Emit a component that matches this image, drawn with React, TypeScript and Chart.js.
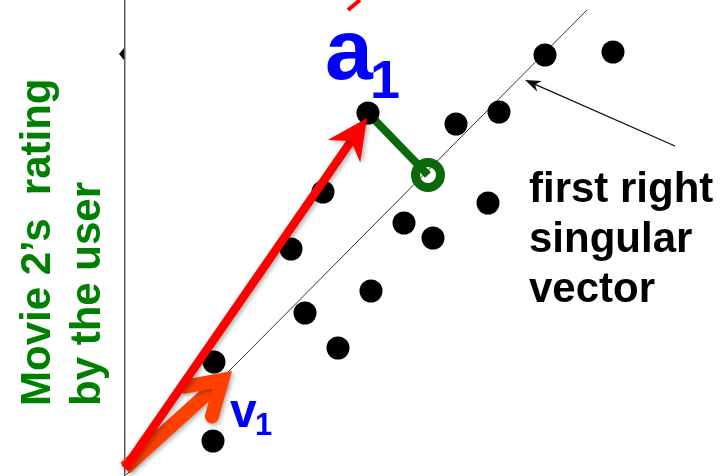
import React, { useEffect, useRef } from 'react';
import { Chart, registerables } from 'chart.js';

Chart.register(...registerables);

// Users' ratings: Movie 1 (x) and Movie 2 (y)
const ratingX = [42.0, 48.8, 24.3, 33.1, 37.4, 19.8, 16.6, 27.9, 30.8, 36.3, 24.6, 18.0, 21.3, 8.9, 8.8];
const ratingY = [41.3, 41.6, 35.5, 34.4, 35.6, 27.6, 21.9, 24.5, 23.0, 26.5, 17.7, 15.5, 12.0, 10.6, 2.7];

// first right singular vector direction line
const vectorLineX = [0.1, 46.2];
const vectorLineY = [-0.7, 45.8];

// projection of a1 onto the vector
const projX = [24.3, 30.3];
const projY = [35.5, 29.3];

// arrows
const a1ArrowX = [0, 24.2];
const a1ArrowY = [0, 35.0];
const v1ArrowX = [0, 10.7];
const v1ArrowY = [0, 9.7];
const calloutX = [55.0, 40.0];
const calloutY = [32.2, 38.8];

// red fragment at the top edge
const redMarkX = [23.5, 22.3];
const redMarkY = [46.8, 45.8];

const xRange = [0, 60];
const yRange = [-0.8, 46.8];

const yTitleLines = ['Movie 2\u2019s  rating', 'by the user'];
const vectorLabelLines = ['first right', 'singular', 'vector'];

const FONT = "'Liberation Sans', Arial, Helvetica, sans-serif";

const pts = (xs: number[], ys: number[]) => xs.map((x, i) => ({ x, y: ys[i] }));

const overlayPlugin = {
  id: 'overlay',
  afterDatasetsDraw(chart: any) {
    const { ctx, chartArea } = chart;
    const sx = chart.scales.x;
    const sy = chart.scales.y;
    const P = (x: number, y: number) => ({ x: sx.getPixelForValue(x), y: sy.getPixelForValue(y) });
    const rot = (u: any, a: number) => ({
      x: u.x * Math.cos(a) - u.y * Math.sin(a),
      y: u.x * Math.sin(a) + u.y * Math.cos(a),
    });
    const unit = (a: any, b: any) => {
      const dx = b.x - a.x, dy = b.y - a.y;
      const l = Math.hypot(dx, dy);
      return { x: dx / l, y: dy / l };
    };

    ctx.save();
    ctx.shadowColor = 'rgba(0,0,0,0.3)';
    ctx.shadowBlur = 4;
    ctx.shadowOffsetX = 2;
    ctx.shadowOffsetY = 2;

    // orange v1 arrow
    {
      const t = P(v1ArrowX[0], v1ArrowY[0]);
      const tip = P(v1ArrowX[1], v1ArrowY[1]);
      const u = unit(t, tip);
      const back = { x: -u.x, y: -u.y };
      const w = 14;
      const half = (32 * Math.PI) / 180;
      const barb = 38;
      const ext = w / 2 / Math.sin(half);
      const v = { x: tip.x - u.x * ext, y: tip.y - u.y * ext };
      const b1 = rot(back, half);
      const b2 = rot(back, -half);
      ctx.strokeStyle = '#ff4000';
      ctx.lineWidth = w;
      ctx.lineCap = 'butt';
      ctx.beginPath();
      ctx.moveTo(t.x, t.y);
      ctx.lineTo(v.x, v.y);
      ctx.stroke();
      ctx.lineCap = 'round';
      ctx.lineJoin = 'miter';
      ctx.beginPath();
      ctx.moveTo(v.x + b1.x * barb, v.y + b1.y * barb);
      ctx.lineTo(v.x, v.y);
      ctx.lineTo(v.x + b2.x * barb, v.y + b2.y * barb);
      ctx.stroke();
    }

    // red a1 arrow
    {
      const t = P(a1ArrowX[0], a1ArrowY[0]);
      const tip = P(a1ArrowX[1], a1ArrowY[1]);
      const u = unit(t, tip);
      const back = { x: -u.x, y: -u.y };
      const half = (26 * Math.PI) / 180;
      const L = 45;
      const notchD = 28;
      const notch = { x: tip.x - u.x * notchD, y: tip.y - u.y * notchD };
      const b1 = rot(back, half);
      const b2 = rot(back, -half);
      ctx.strokeStyle = '#ff0000';
      ctx.fillStyle = '#ff0000';
      ctx.lineWidth = 8.5;
      ctx.lineCap = 'butt';
      ctx.beginPath();
      ctx.moveTo(t.x, t.y);
      ctx.lineTo(notch.x + u.x * 2, notch.y + u.y * 2);
      ctx.stroke();
      ctx.beginPath();
      ctx.moveTo(tip.x, tip.y);
      ctx.lineTo(tip.x + b1.x * L, tip.y + b1.y * L);
      ctx.lineTo(notch.x, notch.y);
      ctx.lineTo(tip.x + b2.x * L, tip.y + b2.y * L);
      ctx.closePath();
      ctx.fill();
    }

    ctx.shadowColor = 'rgba(0,0,0,0)';
    ctx.shadowBlur = 0;
    ctx.shadowOffsetX = 0;
    ctx.shadowOffsetY = 0;

    // callout arrow
    {
      const t = P(calloutX[0], calloutY[0]);
      const tip = P(calloutX[1], calloutY[1]);
      const u = unit(t, tip);
      const back = { x: -u.x, y: -u.y };
      const half = (20 * Math.PI) / 180;
      const L = 17;
      const notch = { x: tip.x - u.x * 11, y: tip.y - u.y * 11 };
      const b1 = rot(back, half);
      const b2 = rot(back, -half);
      ctx.strokeStyle = '#111';
      ctx.fillStyle = '#111';
      ctx.lineWidth = 1.3;
      ctx.beginPath();
      ctx.moveTo(t.x, t.y);
      ctx.lineTo(notch.x, notch.y);
      ctx.stroke();
      ctx.beginPath();
      ctx.moveTo(tip.x, tip.y);
      ctx.lineTo(tip.x + b1.x * L, tip.y + b1.y * L);
      ctx.lineTo(notch.x, notch.y);
      ctx.lineTo(tip.x + b2.x * L, tip.y + b2.y * L);
      ctx.closePath();
      ctx.fill();
    }

    // labels
    ctx.textAlign = 'left';
    ctx.textBaseline = 'alphabetic';
    const a1 = P(ratingX[2], ratingY[2]);
    ctx.fillStyle = '#0000ff';
    ctx.font = `bold 86px ${FONT}`;
    ctx.fillText('a', a1.x - 43, a1.y - 34);
    ctx.font = `bold 54px ${FONT}`;
    ctx.fillText('1', a1.x + 2, a1.y - 15);

    const v1 = P(v1ArrowX[1], v1ArrowY[1]);
    ctx.font = `bold 48px ${FONT}`;
    ctx.fillText('v', v1.x - 2, v1.y + 56);
    ctx.font = `bold 31px ${FONT}`;
    ctx.fillText('1', v1.x + 23, v1.y + 64);

    ctx.fillStyle = '#000';
    ctx.font = `bold 42px ${FONT}`;
    vectorLabelLines.forEach((line, i) => {
      ctx.fillText(line, chartArea.left + 404, chartArea.top + 202 + i * 50);
    });

    // y-axis title (rotated)
    ctx.fillStyle = '#008000';
    ctx.font = `bold 42px ${FONT}`;
    yTitleLines.forEach((line, i) => {
      ctx.save();
      ctx.translate(chartArea.left - 75 + i * 50, chartArea.bottom - 70);
      ctx.rotate(-Math.PI / 2);
      ctx.fillText(line, 0, 0);
      ctx.restore();
    });

    // small mark left of the axis
    ctx.fillStyle = '#000';
    ctx.beginPath();
    ctx.moveTo(chartArea.left - 6, chartArea.top + 54);
    ctx.lineTo(chartArea.left - 1, chartArea.top + 48);
    ctx.lineTo(chartArea.left - 1, chartArea.top + 60);
    ctx.closePath();
    ctx.fill();

    ctx.restore();
  },
};

export default function App() {
  const ref = useRef<HTMLCanvasElement | null>(null);

  useEffect(() => {
    if (!ref.current) return;
    const chart = new Chart(ref.current, {
      type: 'scatter',
      data: {
        datasets: [
          {
            label: 'singular vector',
            data: pts(vectorLineX, vectorLineY),
            showLine: true,
            borderColor: '#333333',
            borderWidth: 1,
            pointRadius: 0,
            order: 6,
          },
          {
            label: 'projection',
            data: pts(projX, projY),
            showLine: true,
            borderColor: '#0b690b',
            borderWidth: 8,
            borderCapStyle: 'butt',
            pointRadius: 0,
            order: 5,
          },
          {
            label: 'users',
            data: pts(ratingX, ratingY),
            backgroundColor: '#000000',
            borderWidth: 0,
            pointRadius: 11.5,
            pointHoverRadius: 11.5,
            order: 4,
          },
          {
            label: 'projected point',
            data: [{ x: projX[1], y: projY[1] }],
            backgroundColor: 'rgba(255,255,255,0)',
            borderColor: '#0b690b',
            borderWidth: 9,
            pointRadius: 12.5,
            pointHoverRadius: 12.5,
            order: 3,
          },
          {
            label: 'mark',
            data: pts(redMarkX, redMarkY),
            showLine: true,
            borderColor: '#ff0000',
            borderWidth: 4,
            pointRadius: 0,
            order: 2,
          },
        ],
      },
      options: {
        responsive: false,
        animation: false,
        events: [],
        layout: { padding: 0, autoPadding: false },
        plugins: {
          legend: { display: false },
          tooltip: { enabled: false },
        },
        scales: {
          x: {
            type: 'linear',
            min: xRange[0],
            max: xRange[1],
            display: false,
          },
          y: {
            type: 'linear',
            min: yRange[0],
            max: yRange[1],
            position: 'left',
            display: true,
            ticks: { display: false },
            grid: { display: false, drawTicks: false },
            border: { display: true, color: '#5a5a5a', width: 1.5 },
            afterFit: (s: any) => {
              s.width = 125;
            },
          },
        },
      },
      plugins: [overlayPlugin],
    } as any);
    return () => chart.destroy();
  }, []);

  return (
    <div style={{ position: 'fixed', left: 0, top: 0, width: 725, height: 476, background: '#fff' }}>
      <canvas ref={ref} width={725} height={476} style={{ width: 725, height: 476, display: 'block' }} />
    </div>
  );
}
